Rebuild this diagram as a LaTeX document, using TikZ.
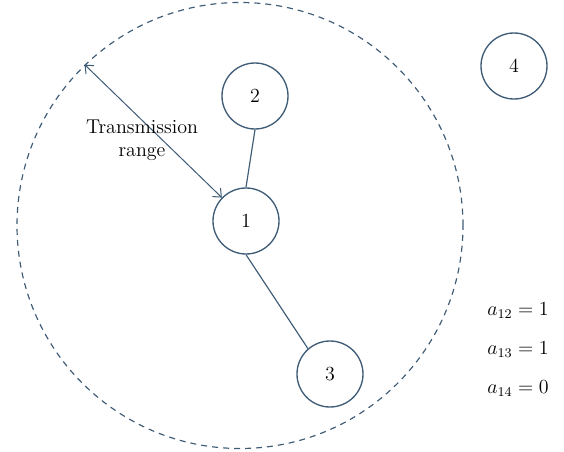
\documentclass[tikz,border=0pt]{standalone}
\usepackage{amsmath}
\usepackage{xcolor}
\usepackage{tikz}
\usetikzlibrary{
arrows.meta,
positioning
}
\definecolor{netblue}{RGB}{62,92,118}

\begin{document}
\begin{tikzpicture}[
  x=0.6pt, y=-0.6pt,
  every node/.style={font=\fontsize{12}{14}\selectfont},
  sensor/.style={draw=netblue, circle, line width=0.8pt,
                 minimum size=39.6pt, inner sep=0pt},
  reach/.style={draw=netblue, circle, line width=0.7pt,
                dash pattern=on 3.6pt off 3pt,
                minimum size=267.6pt, inner sep=0pt},
  link/.style={draw=netblue, line width=0.7pt},
  arrow/.style={{Straight Barb[length=4pt,width=7pt]}-{Straight Barb[length=4pt,width=7pt]},
                netblue, line width=0.6pt}
]
\useasboundingbox (0,0) rectangle (564,452);

%% Transmission range of node 1
\node[reach] (range) at (240,225.5) {};

%% Nodes
\node[sensor] (n1) at (246,221) {1};
\node[sensor] (n2) at (255,96)  {2};
\node[sensor] (n3) at (330,374) {3};
\node[sensor] (n4) at (514,66)  {4};

%% Links inside the range
\draw[link] (n1.north) -- (n2.south);
\draw[link] (n1.south) -- (n3.131);

%% Range arrow
\draw[arrow] (range.134.5) -- (n1);
\node[align=center, inner sep=0pt] (rlabel) at (142,140)
  {Transmission\\range};

%% Adjacency entries
\node (a12) at (518,311) {$a_{12} = 1$};
\node (a13) at (518,350) {$a_{13} = 1$};
\node (a14) at (518,389) {$a_{14} = 0$};

\end{tikzpicture}
\end{document}
